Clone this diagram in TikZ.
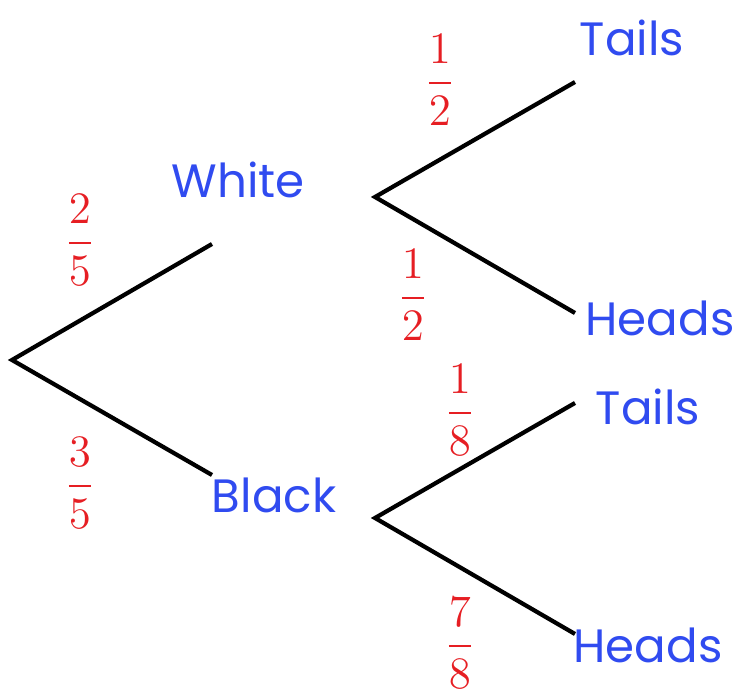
\RequirePackage{fix-cm}
\documentclass[tikz,border=0pt]{standalone}
\usepackage{amsmath}
\usepackage{fontspec}
\usepackage{xcolor}
\usepackage{tikz}
\usetikzlibrary{positioning}
\newfontfamily\outcomefont{Poppins}
\definecolor{outcomeblue}{RGB}{48, 75, 240}
\definecolor{probred}{RGB}{230, 30, 35}

\tikzset{
  outcome/.style={text=outcomeblue, font=\outcomefont\fontsize{13.3}{16}\selectfont, inner sep=0pt},
  prob/.style={text=probred, font=\fontsize{12.8}{16}\selectfont, inner sep=0pt},
  branch/.style={line width=1.2pt, black}
}

\begin{document}
\begin{tikzpicture}
\useasboundingbox (0,0) rectangle (7.36,6.93);
% first stage
\coordinate (root) at (0.12,3.33);
\coordinate (wend) at (2.12,4.49);
\coordinate (bend) at (2.12,2.18);
\node[outcome] (white) at (2.38,5.13) {White};
\node[outcome] (black) at (2.74,1.98) {Black};
\node[prob] (pw) at (0.80,4.53) {$\dfrac{2}{5}$};
\node[prob] (pb) at (0.80,2.10) {$\dfrac{3}{5}$};
\draw[branch] (wend) -- (root) -- (bend);
% after white
\coordinate (wroot) at (3.75,4.96);
\coordinate (wtend) at (5.75,6.11);
\coordinate (whend) at (5.75,3.80);
\node[outcome] (wtails) at (6.32,6.55) {Tails};
\node[outcome] (wheads) at (6.60,3.75) {Heads};
\node[prob] (pwt) at (4.40,6.13) {$\dfrac{1}{2}$};
\node[prob] (pwh) at (4.13,3.98) {$\dfrac{1}{2}$};
\draw[branch] (wtend) -- (wroot) -- (whend);
% after black
\coordinate (broot) at (3.75,1.75);
\coordinate (btend) at (5.75,2.90);
\coordinate (bhend) at (5.75,0.59);
\node[outcome] (btails) at (6.48,2.86) {Tails};
\node[outcome] (bheads) at (6.48,0.48) {Heads};
\node[prob] (pbt) at (4.60,2.83) {$\dfrac{1}{8}$};
\node[prob] (pbh) at (4.60,0.50) {$\dfrac{7}{8}$};
\draw[branch] (btend) -- (broot) -- (bhend);
\end{tikzpicture}
\end{document}
